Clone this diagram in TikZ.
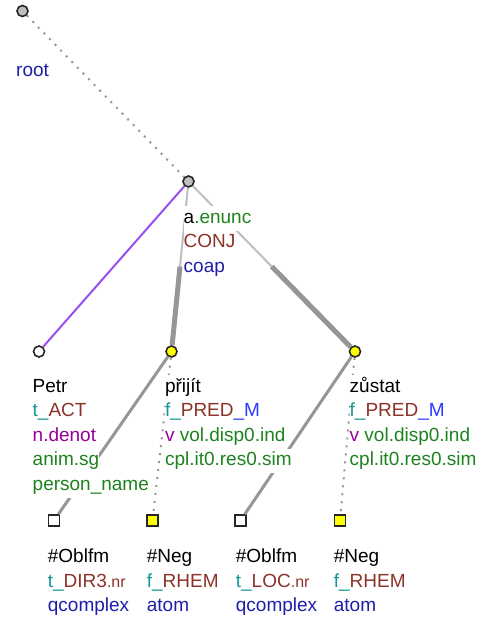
\documentclass[tikz,border=0pt]{standalone}
\usepackage{fontspec}
\setmainfont{Liberation Sans}
\usetikzlibrary{calc}
\definecolor{tteal}{RGB}{20,150,150}
\definecolor{tbrown}{RGB}{140,50,40}
\definecolor{tnavy}{RGB}{30,30,170}
\definecolor{tblue}{RGB}{40,60,255}
\definecolor{tpurple}{RGB}{150,0,150}
\definecolor{tgreen}{RGB}{30,130,30}
\definecolor{tviolet}{RGB}{150,80,240}
\definecolor{tgray}{RGB}{150,150,150}
\definecolor{tlight}{RGB}{190,190,190}
\definecolor{tyellow}{RGB}{255,255,0}
\newcommand\rowbg[1]{{\setlength\fboxsep{0pt}\colorbox{white}{\strut#1}}}
\newcommand\nrtag{{\fontsize{16}{24.5}\selectfont .nr}}

\begin{document}
\begin{tikzpicture}[x=1pt,y=-1pt,font=\fontsize{19}{24.5}\selectfont,
  treenode/.style={circle,draw=black!85,line width=1.6pt,inner sep=0pt,minimum size=11pt},
  hubnode/.style={treenode,fill=tlight},
  plainnode/.style={treenode,fill=white},
  verbnode/.style={treenode,fill=tyellow},
  plainleaf/.style={rectangle,draw=black!85,line width=1.6pt,inner sep=0pt,minimum size=11pt,fill=white},
  rhemleaf/.style={plainleaf,fill=tyellow},
  lbl/.style={anchor=north west,inner sep=0pt,align=left},
  dotedge/.style={tgray,line width=2pt,dash pattern=on 2pt off 6pt},
  thinedge/.style={tlight,line width=2pt},
  thickedge/.style={tgray,line width=5pt},
  solidedge/.style={tgray,line width=3pt}]
\useasboundingbox (0,0) rectangle (483,619);
\foreach \nm/\px/\py/\sty in {%
  root/22.5/11/hubnode, enunc/188.5/181.5/hubnode,
  petr/39/351.5/plainnode, prijit/171.5/351.5/verbnode, zustat/355/351.5/verbnode,
  oblfmA/54/520.5/plainleaf, negA/152.5/520.5/rhemleaf,
  oblfmB/240.5/520.5/plainleaf, negB/340/520.5/rhemleaf}{%
  \node[\sty] (\nm) at (\px,\py) {};
}
% edges
\draw[dotedge] (root) -- (enunc);
\draw[tviolet,line width=2pt] (enunc) -- (petr);
\foreach \kid in {prijit,zustat}{%
  \draw[thinedge] (enunc) -- ($(enunc)!0.5!(\kid)$);
  \draw[thickedge] ($(enunc)!0.5!(\kid)$) -- (\kid);
}
\draw[solidedge] (prijit) -- (oblfmA);
\draw[solidedge] (zustat) -- (oblfmB);
\draw[dotedge] (prijit) -- (negA);
\draw[dotedge] (zustat) -- (negB);
% labels
\node[lbl] (rootlbl) at (16,59) {\rowbg{\color{tnavy}root}};
\node[lbl] (enunclbl) at (183.5,206) {\rowbg{a\color{tgreen}.enunc}\\
  \rowbg{\color{tbrown}CONJ}\\ \rowbg{\color{tnavy}coap}};
\node[lbl] (petrlbl) at (32.5,375) {\rowbg{Petr}\\
  \rowbg{{\color{tteal}t\_}{\color{tbrown}ACT}}\\
  \rowbg{\color{tpurple}n.denot}\\
  \rowbg{\color{tgreen}anim.sg}\\
  \rowbg{\color{tgreen}person\_name}};
\node[lbl] (prijitlbl) at (164.8,375) {\rowbg{přijít}\\
  \rowbg{{\color{tteal}f\_}{\color{tbrown}PRED}{\color{tblue}\_M}}\\
  \rowbg{{\color{tpurple}v} {\color{tgreen}vol.disp0.ind}}\\
  \rowbg{\color{tgreen}cpl.it0.res0.sim}};
\node[lbl] (zustatlbl) at (349.5,375) {\rowbg{zůstat}\\
  \rowbg{{\color{tteal}f\_}{\color{tbrown}PRED}{\color{tblue}\_M}}\\
  \rowbg{{\color{tpurple}v} {\color{tgreen}vol.disp0.ind}}\\
  \rowbg{\color{tgreen}cpl.it0.res0.sim}};
\node[lbl] (oblfmAlbl) at (47.7,545.5) {\rowbg{\#Oblfm}\\
  \rowbg{{\color{tteal}t\_}{\color{tbrown}DIR3\nrtag}}\\
  \rowbg{\color{tnavy}qcomplex}};
\node[lbl] (negAlbl) at (146.7,545.5) {\rowbg{\#Neg}\\
  \rowbg{{\color{tteal}f\_}{\color{tbrown}RHEM}}\\
  \rowbg{\color{tnavy}atom}};
\node[lbl] (oblfmBlbl) at (235.7,545.5) {\rowbg{\#Oblfm}\\
  \rowbg{{\color{tteal}t\_}{\color{tbrown}LOC\nrtag}}\\
  \rowbg{\color{tnavy}qcomplex}};
\node[lbl] (negBlbl) at (333.7,545.5) {\rowbg{\#Neg}\\
  \rowbg{{\color{tteal}f\_}{\color{tbrown}RHEM}}\\
  \rowbg{\color{tnavy}atom}};
\end{tikzpicture}
\end{document}
